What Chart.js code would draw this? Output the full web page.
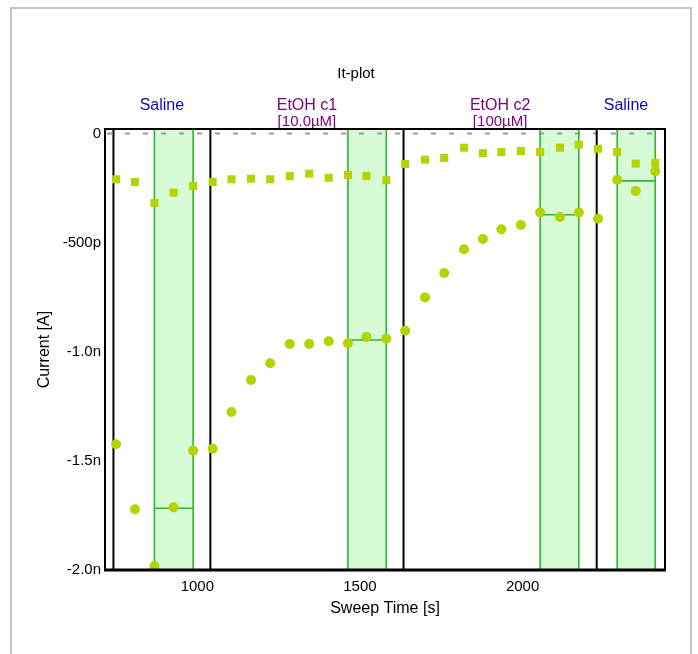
<!DOCTYPE html>
<html>
<head>
<meta charset="utf-8">
<script src="https://cdn.jsdelivr.net/npm/chart.js@4.4.1/dist/chart.umd.min.js"></script>
<style>
  html, body { margin: 0; padding: 0; background: #ffffff; }
  canvas { display: block; }
</style>
</head>
<body>
<canvas id="c" width="698" height="654"></canvas>
<script>
// ---- data (current values in nA) ----
const sweepTime = [750, 808, 868, 927, 987, 1047, 1105, 1165, 1224, 1284, 1344, 1404, 1463, 1520, 1581,
  1639, 1700, 1759, 1820, 1878, 1935, 1995, 2054, 2115, 2173, 2232, 2291, 2348, 2408];
const currentCircles = [-1.424, -1.722, -1.982, -1.713, -1.453, -1.444, -1.276, -1.129, -1.053, -0.964,
  -0.964, -0.952, -0.961, -0.932, -0.940, -0.904, -0.751, -0.639, -0.530, -0.483, -0.439, -0.419,
  -0.362, -0.383, -0.362, -0.391, -0.212, -0.263, -0.173];
const currentSquares = [-0.210, -0.222, -0.318, -0.271, -0.241, -0.222, -0.210, -0.207, -0.210, -0.195,
  -0.184, -0.203, -0.190, -0.195, -0.214, -0.140, -0.120, -0.112, -0.065, -0.090, -0.085, -0.080,
  -0.085, -0.065, -0.051, -0.070, -0.085, -0.138, -0.135];

const eventTimes = [742, 1040, 1634, 2228];
const eventLabels = [['Saline'], ['EtOH c1', '[10.0\u00b5M]'], ['EtOH c2', '[100\u00b5M]'], ['Saline']];
const eventColors = ['#0a0ab4', '#800080', '#800080', '#0a0ab4'];

const bandStarts = [868, 1463, 2054, 2291];
const bandEnds = [987, 1581, 2173, 2408];
const bandMeans = [-1.717, -0.946, -0.372, -0.217];

const xTicks = [1000, 1500, 2000];
const yTickValues = [0, -0.5, -1.0, -1.5, -2.0];
const yTickLabels = ['0', '-500p', '-1.0n', '-1.5n', '-2.0n'];

const FONT = '"Liberation Sans", Arial, sans-serif';
const POINT_COLOR = '#b4d400';

const annotations = {
  id: 'annotations',
  beforeDraw(chart) {
    const ctx = chart.ctx;
    ctx.save();
    ctx.strokeStyle = '#c4c4c4';
    ctx.lineWidth = 2;
    ctx.beginPath();
    ctx.moveTo(11, 654); ctx.lineTo(11, 8); ctx.lineTo(691, 8); ctx.lineTo(691, 654);
    ctx.stroke();
    // title
    ctx.fillStyle = '#000';
    ctx.font = '15px ' + FONT;
    ctx.textAlign = 'center';
    ctx.textBaseline = 'middle';
    ctx.fillText('It-plot', 356, 74);
    ctx.restore();
  },
  beforeDatasetsDraw(chart) {
    const ctx = chart.ctx;
    const xs = chart.scales.x, ys = chart.scales.y;
    const a = chart.chartArea;
    ctx.save();
    // bands
    for (let i = 0; i < bandStarts.length; i++) {
      const x0 = xs.getPixelForValue(bandStarts[i]);
      const x1 = xs.getPixelForValue(bandEnds[i]);
      ctx.fillStyle = '#d6fbd6';
      ctx.fillRect(x0, a.top, x1 - x0, a.bottom - a.top);
    }
    // zero dashed line
    const y0 = ys.getPixelForValue(0);
    ctx.strokeStyle = '#999999';
    ctx.lineWidth = 2;
    ctx.setLineDash([5, 13]);
    ctx.lineDashOffset = 16;
    ctx.beginPath();
    ctx.moveTo(a.left, y0); ctx.lineTo(a.right, y0);
    ctx.stroke();
    ctx.setLineDash([]);
    // band edges and means
    ctx.strokeStyle = '#28bb28';
    ctx.lineWidth = 1.6;
    for (let i = 0; i < bandStarts.length; i++) {
      const x0 = xs.getPixelForValue(bandStarts[i]);
      const x1 = xs.getPixelForValue(bandEnds[i]);
      const ym = ys.getPixelForValue(bandMeans[i]);
      ctx.beginPath();
      ctx.moveTo(x0, a.top); ctx.lineTo(x0, a.bottom);
      ctx.moveTo(x1, a.top); ctx.lineTo(x1, a.bottom);
      ctx.moveTo(x0, ym); ctx.lineTo(x1, ym);
      ctx.stroke();
    }
    // event lines
    ctx.strokeStyle = '#000';
    ctx.lineWidth = 2;
    for (let i = 0; i < eventTimes.length; i++) {
      const x = xs.getPixelForValue(eventTimes[i]);
      ctx.beginPath();
      ctx.moveTo(x, a.top); ctx.lineTo(x, a.bottom);
      ctx.stroke();
    }
    // event labels
    ctx.textAlign = 'center';
    ctx.textBaseline = 'middle';
    for (let i = 0; i < eventTimes.length; i++) {
      const start = eventTimes[i];
      const end = i + 1 < eventTimes.length ? eventTimes[i + 1] : bandEnds[bandEnds.length - 1];
      const cx = (xs.getPixelForValue(start) + xs.getPixelForValue(end)) / 2;
      ctx.fillStyle = eventColors[i];
      const lines = eventLabels[i];
      for (let j = 0; j < lines.length; j++) {
        ctx.font = (j === 0 ? '16px ' : '15px ') + FONT;
        ctx.fillText(lines[j], cx, 106 + j * 16);
      }
    }
    ctx.restore();
  },
  afterDatasetsDraw(chart) {
    const ctx = chart.ctx;
    const a = chart.chartArea;
    ctx.save();
    ctx.strokeStyle = '#000';
    ctx.lineWidth = 2;
    ctx.beginPath();
    ctx.moveTo(a.left, a.bottom); ctx.lineTo(a.left, a.top); ctx.lineTo(a.right, a.top); ctx.lineTo(a.right, a.bottom);
    ctx.stroke();
    ctx.lineWidth = 3;
    ctx.beginPath();
    ctx.moveTo(a.left - 1, a.bottom); ctx.lineTo(a.right + 1, a.bottom);
    ctx.stroke();
    ctx.restore();
  }
};

new Chart(document.getElementById('c'), {
  type: 'scatter',
  data: {
    datasets: [
      {
        label: 'Current (circles)',
        data: sweepTime.map((t, i) => ({ x: t, y: currentCircles[i] })),
        pointStyle: 'circle',
        pointRadius: 5,
        pointBorderWidth: 0,
        backgroundColor: POINT_COLOR,
        borderColor: POINT_COLOR
      },
      {
        label: 'Current (squares)',
        data: sweepTime.map((t, i) => ({ x: t, y: currentSquares[i] })),
        pointStyle: 'rect',
        pointRadius: 5.7,
        pointBorderWidth: 0,
        backgroundColor: POINT_COLOR,
        borderColor: POINT_COLOR
      }
    ]
  },
  options: {
    responsive: false,
    animation: false,
    devicePixelRatio: 1,
    layout: { padding: { top: 129, right: 33, bottom: 0, left: 0 } },
    plugins: { legend: { display: false }, tooltip: { enabled: false }, title: { display: false } },
    scales: {
      x: {
        type: 'linear',
        min: 716,
        max: 2438,
        grid: { display: false, drawTicks: false },
        border: { display: false },
        afterBuildTicks: (s) => { s.ticks = xTicks.map(v => ({ value: v })); },
        afterFit: (s) => { s.height = 84; },
        ticks: { color: '#000', font: { family: FONT, size: 15 }, padding: 8, maxRotation: 0,
          callback: (v) => String(v) },
        title: { display: true, text: 'Sweep Time [s]', color: '#000',
          font: { family: FONT, size: 16 }, padding: { top: 0, bottom: 35.4 } }
      },
      y: {
        type: 'linear',
        min: -2.0,
        max: 0.0206,
        grid: { display: false, drawTicks: false },
        border: { display: false },
        afterBuildTicks: (s) => { s.ticks = yTickValues.map(v => ({ value: v })); },
        afterFit: (s) => { s.width = 105; },
        ticks: { color: '#000', font: { family: FONT, size: 15 }, padding: 4,
          callback: (v) => { const k = yTickValues.indexOf(v); return k >= 0 ? yTickLabels[k] : ''; } },
        title: { display: true, text: 'Current [A]', color: '#000',
          font: { family: FONT, size: 16 }, padding: { top: 35.4, bottom: 0 } }
      }
    }
  },
  plugins: [annotations]
});
</script>
</body>
</html>
